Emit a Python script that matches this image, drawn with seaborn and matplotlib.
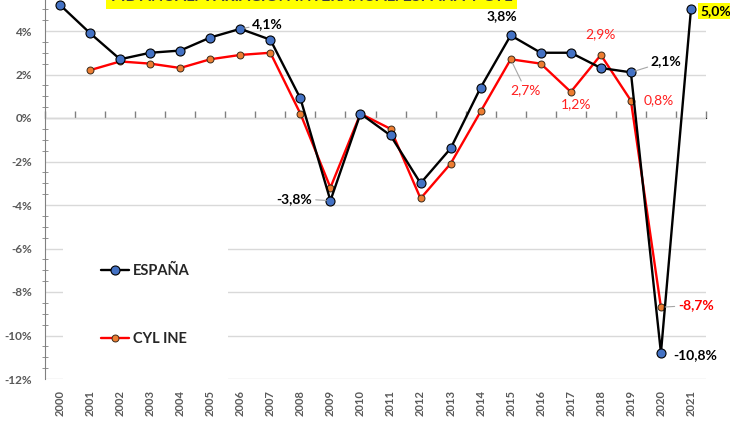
import numpy as np
import matplotlib
matplotlib.use("Agg")
import matplotlib.pyplot as plt
import seaborn as sns
import pandas as pd

years = list(range(2000, 2022))
espana = [5.2, 3.9, 2.7, 3.0, 3.1, 3.7, 4.1, 3.6, 0.9, -3.8, 0.2, -0.8,
          -3.0, -1.4, 1.4, 3.8, 3.0, 3.0, 2.3, 2.1, -10.8, 5.0]
cyl = [np.nan, 2.2, 2.6, 2.5, 2.3, 2.7, 2.9, 3.0, 0.2, -3.2, 0.2, -0.5,
       -3.7, -2.1, 0.3, 2.7, 2.5, 1.2, 2.9, 0.8, -8.7, np.nan]
y_ticks = [-12, -10, -8, -6, -4, -2, 0, 2, 4, 6]
title = "PIB ANUAL. VARIACIÓN INTERANUAL. ESPAÑA Y CYL"

df = pd.DataFrame({"year": years, "ESPAÑA": espana, "CYL INE": cyl})

sns.set_style("white")
plt.rcParams["font.family"] = ["Lato", "DejaVu Sans"]

fig = plt.figure(figsize=(7.3, 4.22), dpi=100)
ax = fig.add_axes([45 / 730, 43 / 422, 661 / 730, 391.5 / 422])

sns.lineplot(data=df, x="year", y="ESPAÑA", ax=ax, color="black", lw=1.7,
             marker="o", markersize=6.5, markerfacecolor="#4472C4",
             markeredgecolor="black", markeredgewidth=0.8, label="ESPAÑA", zorder=4)
sns.lineplot(data=df, x="year", y="CYL INE", ax=ax, color="#FF0000", lw=1.7,
             marker="o", markersize=5, markerfacecolor="#ED7D31",
             markeredgecolor="#3a2a1a", markeredgewidth=0.7, label="CYL INE", zorder=3)

ax.set_xlim(years[0] - 0.5, years[-1] + 0.5)
ax.set_ylim(y_ticks[0], y_ticks[-1])
ax.set_xlabel("")
ax.set_ylabel("")
ax.set_yticks(y_ticks)
# top tick (6%) falls outside the visible picture
ax.set_yticklabels([f"{v}%" if v < y_ticks[-1] else "" for v in y_ticks],
                   color="#595959", fontsize=8.5, fontweight="bold")
ax.set_yticks(np.arange(y_ticks[0], y_ticks[-1] + 0.01, 0.5), minor=True)
ax.tick_params(axis="y", which="major", direction="inout", length=7, color="#808080", pad=6)
ax.tick_params(axis="y", which="minor", direction="inout", length=5, color="#808080", left=True)
ax.grid(axis="y", color="#D9D9D9", lw=1)
ax.set_xticks(years)
ax.set_xticklabels([str(y) for y in years], rotation=90, color="#595959",
                   fontsize=8, fontweight="bold")
ax.tick_params(axis="x", length=0, pad=8)
for s in ["top", "right", "bottom"]:
    ax.spines[s].set_visible(False)
ax.spines["left"].set_color("#808080")

# zero axis with category ticks
sec = ax.secondary_xaxis(12 / 18)
sec.set_xticks(np.arange(years[0] - 0.5, years[-1] + 1, 1))
sec.set_xticklabels([])
sec.tick_params(direction="out", length=5, color="#808080", width=1)
sec.spines["bottom"].set_color("#808080")
sec.spines["bottom"].set_linewidth(1.2)

leg = ax.legend(loc="center", bbox_to_anchor=(0.152, 0.19), frameon=True,
                facecolor="white", edgecolor="none", framealpha=1,
                labelspacing=3.7, borderpad=2.6, handlelength=1.9,
                handletextpad=0.3, prop={"size": 10.5, "weight": "bold"})
leg.set_zorder(2)

gray = dict(arrowstyle="-", color="#A6A6A6", lw=0.8, shrinkA=0, shrinkB=3)

def label(i, vals, txt, dx, dy, ha, color="black", weight="bold", arrow=False, bg=None):
    kw = dict(xy=(years[i], vals[i]), xytext=(dx, dy), textcoords="offset pixels",
              ha=ha, va="center", fontsize=10, color=color, fontweight=weight, zorder=6)
    if arrow:
        kw["arrowprops"] = gray
    if bg:
        kw["bbox"] = dict(boxstyle="square,pad=0.15", fc=bg, ec="none")
    ax.annotate(txt, **kw)

label(6, espana, "4,1%", 12, 5, "left", arrow=True)
label(15, espana, "3,8%", -9, 19, "center")
label(19, espana, "2,1%", 20, 11, "left", arrow=True)
label(21, espana, "5,0%", 9, -2, "left", bg="#FFFF00")
label(9, espana, "-3,8%", -18, 2, "right", arrow=True)
label(20, espana, "-10,8%", 12, -2, "left")
label(15, cyl, "2,7%", 15, -31, "center", color="#FF2020", weight="normal", arrow=True)
label(17, cyl, "1,2%", 5, -12, "center", color="#FF2020", weight="normal")
label(18, cyl, "2,9%", 0, 21, "center", color="#FF2020", weight="normal")
label(19, cyl, "0,8%", 13, 0, "left", color="#FF2020", weight="normal")
label(20, cyl, "-8,7%", 17, 2, "left", color="#FF0000", arrow=True)

# banner title, cropped at the top edge as in the original
fig.text(0.427, 1 - 1 / 422, title, ha="center", va="baseline", fontsize=11.5,
         fontweight="bold", color="#404040",
         bbox=dict(boxstyle="square,pad=0.3", fc="#FFFF00", ec="none"))

fig.savefig("out.png", dpi=100)
